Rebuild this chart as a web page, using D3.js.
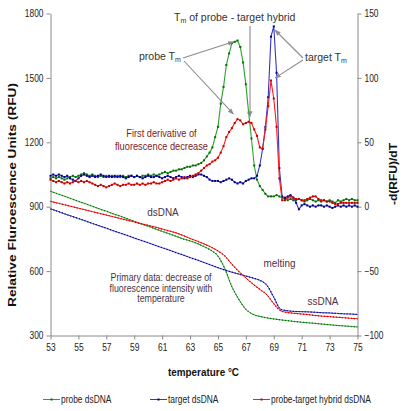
<!DOCTYPE html>
<html><head><meta charset="utf-8">
<script src="https://cdn.jsdelivr.net/npm/d3@7"></script>
<style>body{margin:0;background:#fff}svg{font-family:"Liberation Sans",Arial,sans-serif}</style>
</head><body><svg id="c" width="404" height="411"></svg>
<script>
// ---------- data ----------
const xTicks = [53,55,57,59,61,63,65,67,69,71,73,75];
const yLeftTicks = [300,600,900,1200,1500,1800];
const yRightTicks = [-100,-50,0,50,100,150];
const seriesNames = ["probe dsDNA","target dsDNA","probe-target hybrid dsDNA"];

// temperatures of primary data (0.5 °C steps)
const tempsPrimary = [53,53.5,54,54.5,55,55.5,56,56.5,57,57.5,58,58.5,59,59.5,60,60.5,61,61.5,62,62.5,
  63,63.5,64,64.5,65,65.5,66,66.5,67,67.5,68,68.5,69,69.5,70,70.5,71,71.5,72,72.5,73,73.5,74,74.5,75];
// Relative fluorescence (RFU)
const rfuProbe = [972,960,949,937,925,914,902,890,879,867,856,844,832,820,809,797,785,774,762,750,
  741,729,714,697,670,610,527,468,422,399,389,382,377,373,369,365,362,359,356,353,350,347,345,342,340];
const rfuTarget = [890,879,867,856,845,834,822,811,800,788,777,766,754,743,732,720,709,698,686,675,
  663,652,640,628,616,605,595,586,577,568,557,535,478,422,415,412,411,410,408,406,405,403,401,400,398];
const rfuHybrid = [925,917,909,901,893,885,877,869,861,853,845,837,829,821,813,805,796,787,778,766,
  752,740,727,712,694,670,632,598,568,540,515,490,448,415,407,403,400,397,393,390,388,385,383,380,378];

// temperatures of derivative data (0.2 °C steps, 53.0 ... 75.0)
const tempsDeriv = d3.range(111).map(i => +(53 + i * 0.2).toFixed(1));
// -d(RFU)/dT
const derivProbe = [
  22,23,22,23,22,21,22,23,24,23,
  24,25,26,25,24,25,24,23,24,23,
  24,23,24,23,24,23,24,23,24,24,
  23,24,23,24,24,25,24,25,24,25,
  26,27,26,27,28,28,29,29,30,31,
  31,32,32,33,34,36,39,42,46,54,
  62,80,93,110,119,127,128,129,124,112,
  95,73,53,32,21,16,13,10,8,8,
  8,9,8,7,6,5,6,5,5,6,
  5,4,5,6,5,4,5,4,5,4,
  5,4,3,5,4,5,6,5,6,5,
  5];
const derivTarget = [
  24,25,24,25,24,23,24,22,21,20,
  22,24,25,24,23,24,23,24,25,24,
  23,24,23,24,23,24,23,22,23,24,
  23,24,23,22,23,24,23,23,24,23,
  22,23,24,23,22,23,24,23,22,23,
  24,23,24,25,25,24,23,21,20,20,
  20,19,20,21,22,21,19,18,19,18,
  20,21,22,22,24,32,45,62,85,132,
  140,104,30,8,7,8,9,7,3,-2,
  1,2,1,0,1,0,1,1,0,1,
  0,-1,0,1,0,1,0,1,0,1,
  0];
const derivHybrid = [
  21,20,19,20,19,18,19,18,19,20,
  19,20,19,20,19,18,17,16,17,16,
  15,16,17,18,17,16,17,17,18,17,
  17,18,17,18,17,18,18,19,18,18,
  19,20,21,20,21,22,21,22,23,22,
  23,24,25,26,28,30,32,33,35,36,
  38,42,47,54,58,61,65,68,67,64,
  65,66,65,60,55,46,45,60,78,98,
  84,62,22,5,5,7,8,7,6,6,
  5,5,6,7,8,8,6,5,5,4,
  4,3,2,2,3,3,3,3,3,3,
  3];

// ---------- drawing ----------
const svg = d3.select("#c");
const x = d3.scaleLinear().domain([53,75]).range([50.5,357.5]);
const yL = d3.scaleLinear().domain([300,1800]).range([335.5,13.5]);
const yR = d3.scaleLinear().domain([-100,150]).range([335.5,13.5]);

const colors = [
  {line:"#2ca02c", mark:"#0a6a0a"},
  {line:"#3535c8", mark:"#000080"},
  {line:"#ff1a1a", mark:"#c00000"}
];
const axisColor = "#8a8a8a";

function squeeze(sel, f){
  sel.each(function(){
    const w = this.getComputedTextLength();
    this.setAttribute("textLength", w*f);
    this.setAttribute("lengthAdjust","spacingAndGlyphs");
  });
}

// axes
const fmt = d3.format("d");
const gx = svg.append("g").attr("transform","translate(0,335.5)")
  .call(d3.axisBottom(x).tickValues(xTicks).tickFormat(fmt).tickSize(4).tickSizeOuter(0).tickPadding(4));
const gl = svg.append("g").attr("transform","translate(50.5,0)")
  .call(d3.axisLeft(yL).tickValues(yLeftTicks).tickFormat(fmt).tickSize(4).tickSizeOuter(0).tickPadding(3));
const gr = svg.append("g").attr("transform","translate(357.5,0)")
  .call(d3.axisRight(yR).tickValues(yRightTicks).tickFormat(fmt).tickSize(4).tickSizeOuter(0).tickPadding(3));
[gx,gl,gr].forEach(g=>{
  g.select(".domain").attr("stroke",axisColor);
  g.selectAll(".tick line").attr("stroke",axisColor);
  g.selectAll(".tick text").attr("fill","#222").style("font-size","10px").attr("font-family","Liberation Sans, Arial, sans-serif");
  squeeze(g.selectAll(".tick text"), 0.84);
});

// primary data lines
const primary = [rfuProbe, rfuTarget, rfuHybrid];
const lineP = d3.line().x((d,i)=>x(tempsPrimary[i])).y(d=>yL(d)).curve(d3.curveMonotoneX);
primary.forEach((s,k)=>{
  svg.append("path").attr("d",lineP(s)).attr("fill","none").attr("stroke",colors[k].line).attr("stroke-width",1);
  svg.append("path").attr("d",lineP(s)).attr("fill","none").attr("stroke",colors[k].mark).attr("stroke-width",1.3).attr("stroke-dasharray","1,2");
});

// derivative lines
const deriv = [derivProbe, derivTarget, derivHybrid];
const lineD = d3.line().x((d,i)=>x(tempsDeriv[i])).y(d=>yR(d));
deriv.forEach((s,k)=>{
  svg.append("path").attr("d",lineD(s)).attr("fill","none").attr("stroke",colors[k].line).attr("stroke-width",1.1);
  svg.append("g").selectAll("rect").data(s).join("rect")
    .attr("x",(d,i)=>x(tempsDeriv[i])-1).attr("y",d=>yR(d)-1)
    .attr("width",2).attr("height",2).attr("fill",colors[k].mark);
});

// axis titles
svg.append("text").attr("transform","translate(16,195) rotate(-90)")
  .attr("text-anchor","middle").style("font-size","11px").style("font-weight","bold").attr("fill","#111")
  .text("Relative Fluroescence Units (RFU)")
  .attr("textLength",224).attr("lengthAdjust","spacingAndGlyphs");
svg.append("text").attr("transform","translate(397,174) rotate(-90)")
  .attr("text-anchor","middle").style("font-size","11px").style("font-weight","bold").attr("fill","#111")
  .text("-d(RFU)/dT").attr("textLength",62).attr("lengthAdjust","spacingAndGlyphs");
svg.append("text").attr("x",203.5).attr("y",375.5).attr("text-anchor","middle")
  .style("font-size","11px").style("font-weight","bold").attr("fill","#111").text("temperature °C")
  .attr("textLength",71).attr("lengthAdjust","spacingAndGlyphs");

// annotation arrows
const defs = svg.append("defs");
defs.append("marker").attr("id","ah").attr("viewBox","0 0 10 10").attr("refX",9).attr("refY",5)
  .attr("markerWidth",6).attr("markerHeight",6).attr("markerUnits","userSpaceOnUse").attr("orient","auto")
  .append("path").attr("d","M0,1 L10,5 L0,9 z").attr("fill","#8c8c8c");
const arrows = [
  {from:[183,58], to:[66.1,128]},
  {from:[184,61], to:[66.1,72]},
  {from:[250,26], to:[67.3,70]},
  {from:[303,58], to:[69.1,137]},
  {from:[303,60], to:[69.1,100]}
];
arrows.forEach(a=>{
  svg.append("line").attr("x1",a.from[0]).attr("y1",a.from[1])
    .attr("x2",x(a.to[0])).attr("y2",yR(a.to[1]))
    .attr("stroke","#8c8c8c").attr("stroke-width",1.1).attr("marker-end","url(#ah)");
});

// annotation texts
function tm(xp, yp, pre, post, anchor){
  const t = svg.append("text").attr("x",xp).attr("y",yp).attr("text-anchor",anchor||"start")
    .style("font-size","10.5px").attr("fill","#333");
  t.append("tspan").text(pre);
  t.append("tspan").attr("dy",2).style("font-size","7px").text("m");
  if(post) t.append("tspan").attr("dy",-2).text(post);
  return t;
}
tm(174,21,"T"," of probe - target hybrid");
tm(139,60,"probe T","");
tm(305,61,"target T","");

function label(lines, cx, y0, dy, color, size, f){
  lines.forEach((s,i)=>{
    const t = svg.append("text").attr("x",cx).attr("y",y0+i*dy).attr("text-anchor","middle")
      .style("font-size",size+"px").attr("fill",color).text(s);
    squeeze(t, f);
  });
}
label(["First derivative of","fluorescence decrease"],161.5,137,12.5,"#7a1c1c",11,0.84);
label(["dsDNA"],163,216,0,"#4a3348",11,0.9);
label(["Primary data: decrease of","fluorescence intensity with","temperature"],161,281,10.5,"#4a3348",10.5,0.84);
label(["melting"],279.5,267,0,"#4a3348",11,0.9);
label(["ssDNA"],323,305,0,"#4a3348",11,0.9);

// legend
const legX = [43,150,253];
seriesNames.forEach((n,k)=>{
  const g = svg.append("g");
  g.append("line").attr("x1",legX[k]).attr("x2",legX[k]+17).attr("y1",399.5).attr("y2",399.5)
    .attr("stroke",colors[k].line).attr("stroke-width",1);
  g.append("rect").attr("x",legX[k]+7.5).attr("y",398.5).attr("width",2).attr("height",2).attr("fill",colors[k].mark);
  const t = g.append("text").attr("x",legX[k]+18).attr("y",403).style("font-size","10px").attr("fill","#222").text(n);
  squeeze(t,0.84);
});
</script></body></html>
